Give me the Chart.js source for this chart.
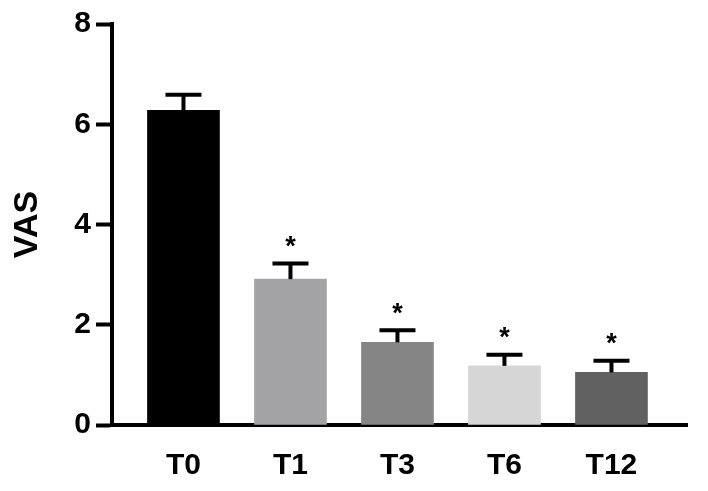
<!DOCTYPE html>
<html>
<head>
<meta charset="utf-8">
<script src="https://cdn.jsdelivr.net/npm/chart.js@4.4.1/dist/chart.umd.min.js"></script>
<style>
html,body{margin:0;padding:0;background:#fff;}
#wrap{width:708px;height:491px;}
</style>
</head>
<body>
<div id="wrap"><canvas id="c" width="708" height="491"></canvas></div>
<script>
const categories = ['T0', 'T1', 'T3', 'T6', 'T12'];
const vasMean = [6.28, 2.91, 1.65, 1.18, 1.05];
const vasError = [0.31, 0.31, 0.24, 0.22, 0.23];
const significant = [false, true, true, true, true];
const barColors = ['#000000', '#a3a3a7', '#858585', '#d6d6d6', '#616161'];
const yTicks = [0, 2, 4, 6, 8];

const FONT = "'Liberation Sans', Arial, sans-serif";

const errorPlugin = {
  id: 'errorBars',
  afterDatasetsDraw(chart) {
    const ctx = chart.ctx;
    const xs = chart.scales.x, ys = chart.scales.y;
    ctx.save();
    ctx.strokeStyle = '#000';
    ctx.lineWidth = 4;
    ctx.lineCap = 'butt';
    vasMean.forEach((m, i) => {
      const x = xs.getPixelForValue(i);
      const y0 = ys.getPixelForValue(m);
      const y1 = ys.getPixelForValue(m + vasError[i]);
      ctx.beginPath();
      ctx.moveTo(x, y0);
      ctx.lineTo(x, y1);
      ctx.stroke();
      ctx.beginPath();
      ctx.moveTo(x - 18, y1);
      ctx.lineTo(x + 18, y1);
      ctx.stroke();
      if (significant[i]) {
        ctx.fillStyle = '#000';
        ctx.font = "bold 27px " + FONT;
        ctx.textAlign = 'center';
        ctx.textBaseline = 'middle';
        ctx.fillText('*', x, y1 - 16);
      }
    });
    ctx.restore();
  }
};

new Chart(document.getElementById('c'), {
  type: 'bar',
  data: {
    datasets: [{
      data: vasMean.map((v, i) => ({x: i, y: v})),
      backgroundColor: barColors,
      borderWidth: 0,
      barThickness: 72
    }]
  },
  options: {
    responsive: false,
    animation: false,
    layout: {padding: {top: 24, right: 21, bottom: 0, left: 0}},
    plugins: {legend: {display: false}, tooltip: {enabled: false}},
    scales: {
      x: {
        type: 'linear',
        min: -0.668,
        max: 4.706,
        offset: false,
        afterBuildTicks: s => { s.ticks = categories.map((c, i) => ({value: i})); },
        afterFit: s => { s.height = 66; },
        ticks: {
          callback: v => categories[v],
          color: '#000',
          font: {family: FONT, size: 30, weight: 'bold'},
          padding: 23,
          maxRotation: 0
        },
        grid: {display: false, drawTicks: false},
        border: {display: true, color: '#000', width: 4}
      },
      y: {
        min: 0,
        max: 8,
        afterBuildTicks: s => { s.ticks = yTicks.map(v => ({value: v})); },
        afterFit: s => { s.width = 112; },
        ticks: {
          color: '#000',
          font: {family: FONT, size: 30, weight: 'bold'},
          padding: 5
        },
        grid: {drawOnChartArea: false, drawTicks: true, tickLength: 16, tickWidth: 4, tickColor: '#000'},
        border: {display: true, color: '#000', width: 4},
        title: {
          display: true,
          text: 'VAS',
          color: '#000',
          font: {family: FONT, size: 34, weight: 'bold'},
          padding: {top: 7, bottom: 0}
        }
      }
    }
  },
  plugins: [errorPlugin]
});
</script>
</body>
</html>
